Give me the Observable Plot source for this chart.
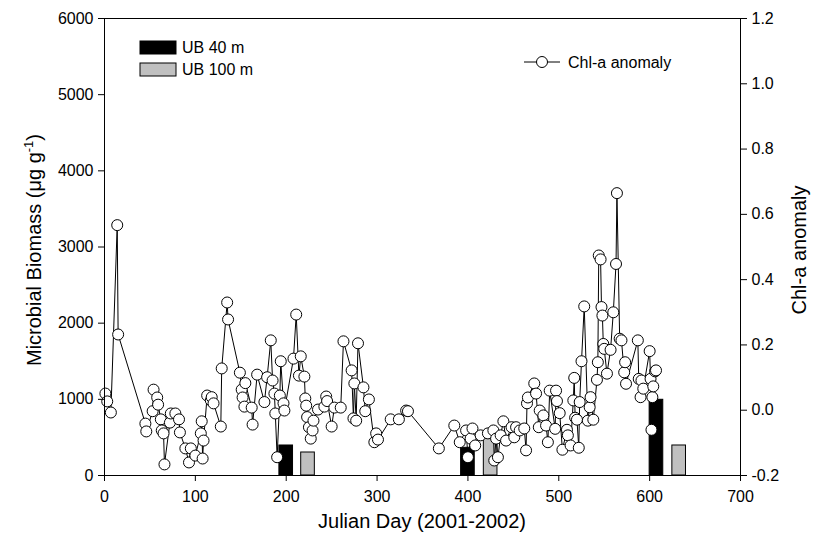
<!DOCTYPE html>
<html><head><meta charset="utf-8">
<script src="https://cdn.jsdelivr.net/npm/d3@7"></script>
<script src="https://cdn.jsdelivr.net/npm/@observablehq/plot@0.6"></script>
<style>
body{margin:0;background:#fff;}
#chart{position:relative;width:814px;height:550px;}
</style></head><body><div id="chart"></div>
<script>
// Chl-a anomaly series (Julian day, anomaly)
const days = [1,3,7,14,15,45,46,53,54,58,59,62,63,65,66,72,73,78,82,83,89,93,95,100,106,107,108,109,113,117,118,120,128,129,135,136,149,151,152,154,155,162,163,168,176,179,183,185,187,188,190,193,194,197,198,208,211,214,216,220,221,222,223,225,227,229,230,235,242,244,245,250,253,260,263,272,274,275,277,279,285,287,291,297,299,301,315,324,332,334,368,385,391,398,400,403,405,408,414,422,428,429,431,433,436,439,442,448,451,453,457,462,464,465,466,473,475,478,479,483,486,488,490,496,497,498,501,504,509,510,513,516,517,518,520,522,523,525,528,532,534,535,538,542,543,544,546,547,548,549,550,553,557,560,563,564,567,569,572,573,574,587,588,590,591,593,600,601,602,603,604,606,607];
const chlAnomaly = [0.051,0.027,-0.007,0.567,0.232,-0.041,-0.065,-0.003,0.063,0.039,0.017,-0.028,-0.062,-0.071,-0.166,-0.038,-0.010,-0.010,-0.028,-0.068,-0.117,-0.160,-0.117,-0.139,-0.071,-0.034,-0.148,-0.093,0.045,0.030,0.040,0.021,-0.050,0.128,0.330,0.278,0.115,0.063,0.039,0.011,0.083,0.008,-0.044,0.109,0.025,0.101,0.214,0.091,0.051,-0.010,-0.144,0.045,0.150,0.021,-0.001,0.158,0.293,0.106,0.165,0.103,0.036,0.014,-0.021,-0.052,-0.087,-0.062,-0.032,0.002,0.011,0.042,0.028,-0.050,0.008,0.008,0.211,0.122,-0.025,0.082,-0.032,0.205,0.070,-0.003,0.033,-0.098,-0.071,-0.090,-0.028,-0.028,-0.001,-0.003,-0.117,-0.047,-0.098,-0.062,-0.144,-0.087,-0.056,-0.108,-0.077,-0.071,-0.062,-0.154,-0.087,-0.144,-0.077,-0.034,-0.093,-0.052,-0.083,-0.052,-0.062,-0.056,-0.123,0.021,0.039,0.082,0.051,-0.052,-0.001,-0.016,-0.047,-0.098,0.060,-0.057,0.060,0.028,-0.009,-0.121,-0.060,-0.077,-0.108,0.030,0.099,-0.023,-0.029,-0.115,0.025,0.150,0.318,-0.032,0.009,0.040,-0.029,0.093,0.147,0.474,0.462,0.316,0.290,0.203,0.188,0.112,0.185,0.300,0.448,0.665,0.219,0.214,0.116,0.147,0.081,0.214,0.096,0.040,0.091,0.066,0.181,0.096,-0.060,0.040,0.073,0.119,0.122];

// Microbial biomass bars (µg g-1)
const barDays40 = [200, 400, 607.5];
const barVals40 = [394, 364, 994];
const barDays100 = [224, 425, 632.5];
const barVals100 = [302, 482, 394];

const xTicks = [0,100,200,300,400,500,600,700];
const yLeftTicks = [0,1000,2000,3000,4000,5000,6000];
const yRightTicks = [-0.2,0,0.2,0.4,0.6,0.8,1.0,1.2];

const leftMax = 6000, rMin = -0.2, rMax = 1.2;
const toLeft = a => (a - rMin) / (rMax - rMin) * leftMax;
const rightLabel = new Map(yRightTicks.map(t => [toLeft(t), (Math.round(t*10)/10 === 0 ? 0 : t).toFixed(1)]));

const chl = days.map((d,i) => ({day: d, a: chlAnomaly[i]}));
const bars = [
  ...barDays40.map((d,i) => ({series: "UB 40 m", day: d, v: barVals40[i]})),
  ...barDays100.map((d,i) => ({series: "UB 100 m", day: d, v: barVals100[i]}))
];
const halfW = 7.5;
const FONT = "Liberation Sans, Arial, sans-serif";

const chart = Plot.plot({
  width: 814, height: 550,
  marginLeft: 104, marginRight: 74, marginTop: 18, marginBottom: 75,
  style: {fontFamily: FONT, fontSize: "16px", color: "#000", background: "#fff"},
  x: {domain: [0, 700]},
  y: {domain: [0, leftMax]},
  color: {domain: ["UB 40 m", "UB 100 m"], range: ["#000000", "#c0c0c0"]},
  marks: [
    Plot.rect(bars, {x1: d => d.day - halfW, x2: d => d.day + halfW, y1: 0, y2: "v", fill: "series", stroke: "#000", strokeWidth: 1}),
    Plot.line(chl, {x: "day", y: d => toLeft(d.a), stroke: "#000", strokeWidth: 1}),
    Plot.dot(chl, {x: "day", y: d => toLeft(d.a), r: 5.5, fill: "#fff", stroke: "#000", strokeWidth: 1}),
    Plot.frame({stroke: "#000", strokeWidth: 1}),
    Plot.axisX(xTicks, {anchor: "bottom", tickSize: 6, tickPadding: 9, tickFormat: d => String(d), label: null, fontSize: 16}),
    Plot.axisY(yLeftTicks, {anchor: "left", tickSize: 6, tickPadding: 5, tickFormat: d => String(d), label: null, fontSize: 16}),
    Plot.axisY(yRightTicks.map(toLeft), {anchor: "right", tickSize: 6, tickPadding: 5, tickFormat: d => rightLabel.get(d), label: null, fontSize: 16})
  ]
});
document.getElementById("chart").appendChild(chart);

// titles and legend
const svg = d3.select(chart);
const g = svg.append("g").attr("font-family", FONT).attr("fill", "#000");
g.append("text").attr("x", 422).attr("y", 528).attr("text-anchor", "middle").attr("font-size", 20).text("Julian Day (2001-2002)");
const lt = g.append("text").attr("transform", "translate(41,250) rotate(-90)").attr("text-anchor", "middle").attr("font-size", 20);
lt.append("tspan").text("Microbial Biomass (\u03bcg g");
lt.append("tspan").attr("font-size", 13).attr("dy", -8).text("-1");
lt.append("tspan").attr("dy", 8).text(")");
g.append("text").attr("transform", "translate(806,250) rotate(-90)").attr("text-anchor", "middle").attr("font-size", 20).text("Chl-a anomaly");

// legend
g.append("rect").attr("x", 140).attr("y", 41).attr("width", 36).attr("height", 13).attr("fill", "#000").attr("stroke", "#000");
g.append("text").attr("x", 182).attr("y", 53).attr("text-anchor", "start").attr("font-size", 16).text("UB 40 m");
g.append("rect").attr("x", 140).attr("y", 63).attr("width", 36).attr("height", 13).attr("fill", "#c0c0c0").attr("stroke", "#000");
g.append("text").attr("x", 182).attr("y", 75).attr("text-anchor", "start").attr("font-size", 16).text("UB 100 m");
g.append("line").attr("x1", 524).attr("x2", 560).attr("y1", 62).attr("y2", 62).attr("stroke", "#000");
g.append("circle").attr("cx", 542).attr("cy", 62).attr("r", 5.5).attr("fill", "#fff").attr("stroke", "#000");
g.append("text").attr("x", 568).attr("y", 68).attr("text-anchor", "start").attr("font-size", 16).text("Chl-a anomaly");
</script></body></html>
